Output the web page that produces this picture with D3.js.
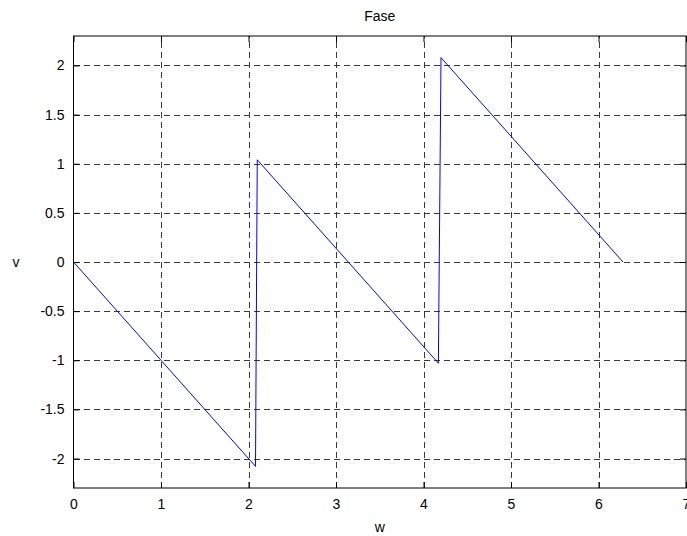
<!DOCTYPE html>
<html>
<head>
<meta charset="utf-8">
<script src="https://cdn.jsdelivr.net/npm/d3@7"></script>
<style>
  html, body { margin: 0; padding: 0; background: #fff; }
  svg { display: block; font-family: "Liberation Sans", Arial, Helvetica, sans-serif; }
</style>
</head>
<body>
<svg id="chart" width="687" height="536"></svg>
<script>
// Phase response: vertices of the piecewise-linear trace (w in rad, v in rad)
const wValues = [0, 2.08, 2.10, 4.17, 4.20, 6.28];
const vValues = [0, -2.08, 1.04, -1.03, 2.08, 0];

const xTicks = [0, 1, 2, 3, 4, 5, 6, 7];
const yTicks = [-2, -1.5, -1, -0.5, 0, 0.5, 1, 1.5, 2];
const xDomain = [0, 7];
const yDomain = [-2.3, 2.3];

const titleText = "Fase";
const xLabelText = "w";
const yLabelText = "v";

const svg = d3.select("#chart");
const plot = { left: 73.5, right: 686, top: 36, bottom: 488 };

const x = d3.scaleLinear().domain(xDomain).range([plot.left, plot.right]);
const y = d3.scaleLinear().domain(yDomain).range([plot.bottom, plot.top]);

const fontSize = 14;
const tickLen = 6;

// Grid lines (dashed)
const grid = svg.append("g").attr("stroke", "#3a3a3a").attr("stroke-width", 1)
  .attr("stroke-dasharray", "6,4").attr("fill", "none").attr("shape-rendering", "crispEdges");
grid.selectAll("line.gx").data(xTicks.filter(t => t > xDomain[0] && t < xDomain[1]))
  .join("line").attr("class", "gx")
  .attr("x1", d => Math.round(x(d)) + 0.5).attr("x2", d => Math.round(x(d)) + 0.5)
  .attr("y1", plot.bottom).attr("y2", plot.top);
grid.selectAll("line.gy").data(yTicks)
  .join("line").attr("class", "gy")
  .attr("y1", d => Math.round(y(d)) + 0.5).attr("y2", d => Math.round(y(d)) + 0.5)
  .attr("x1", plot.left).attr("x2", plot.right);

// Bottom axis with inward ticks
const xAxis = d3.axisBottom(x).tickValues(xTicks).tickFormat(d3.format("d"))
  .tickSizeInner(-tickLen).tickSizeOuter(0).tickPadding(11);
const gx = svg.append("g").attr("transform", `translate(0,${plot.bottom})`).call(xAxis);

// Left axis with inward ticks
const yAxis = d3.axisLeft(y).tickValues(yTicks).tickFormat(d => String(d))
  .tickSizeInner(-tickLen).tickSizeOuter(0).tickPadding(9);
const gy = svg.append("g").attr("transform", `translate(${plot.left},0)`).call(yAxis);

// Mirror ticks on top and right edges
const gxTop = svg.append("g").attr("transform", `translate(0,${plot.top})`)
  .call(d3.axisTop(x).tickValues(xTicks).tickFormat("").tickSizeInner(-tickLen).tickSizeOuter(0));
const gyRight = svg.append("g").attr("transform", `translate(${plot.right},0)`)
  .call(d3.axisRight(y).tickValues(yTicks).tickFormat("").tickSizeInner(-tickLen).tickSizeOuter(0));

[gx, gy, gxTop, gyRight].forEach(g => {
  g.select(".domain").remove();
  g.selectAll(".tick line").attr("stroke", "#000");
  g.selectAll("text").attr("font-size", fontSize).attr("fill", "#000")
    .attr("font-family", "'Liberation Sans', Arial, sans-serif");
});

// Axes box
svg.append("rect")
  .attr("x", plot.left).attr("y", plot.top)
  .attr("width", plot.right - plot.left).attr("height", plot.bottom - plot.top)
  .attr("fill", "none").attr("stroke", "#000").attr("stroke-width", 1);

// Trace
const line = d3.line().x(d => x(d[0])).y(d => y(d[1]));
svg.append("path")
  .datum(wValues.map((w, i) => [w, vValues[i]]))
  .attr("d", line)
  .attr("fill", "none").attr("stroke", "#0000ff").attr("stroke-width", 1);

// Title and axis labels
svg.append("text").attr("x", (plot.left + plot.right) / 2).attr("y", 21)
  .attr("text-anchor", "middle").attr("font-size", fontSize).text(titleText);
svg.append("text").attr("x", (plot.left + plot.right) / 2).attr("y", 532)
  .attr("text-anchor", "middle").attr("font-size", fontSize).text(xLabelText);
svg.append("text").attr("x", 16).attr("y", 267)
  .attr("text-anchor", "middle").attr("font-size", fontSize).text(yLabelText);
</script>
</body>
</html>
